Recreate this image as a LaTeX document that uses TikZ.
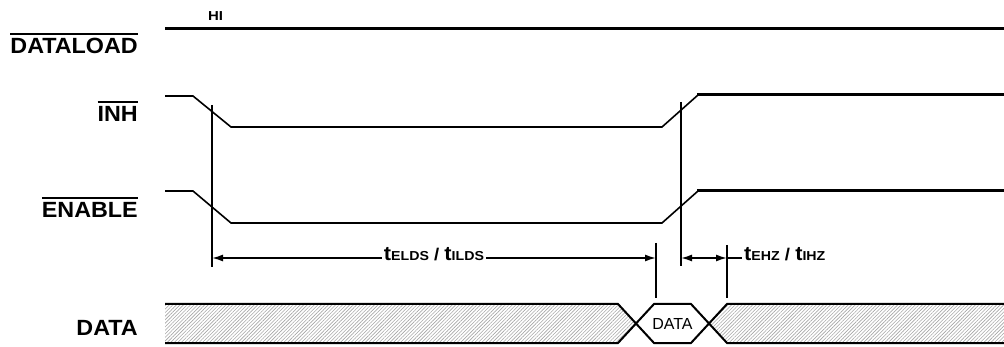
\documentclass[tikz,border=0pt]{standalone}
\usepackage{fontspec}
\setmainfont{Liberation Sans}
\usetikzlibrary{arrows.meta,patterns.meta}
\newcommand\ovl[1]{\vbox{\hrule height 2pt\kern 4pt\hbox{#1}}}
\newcommand\tsub[1]{{\fontsize{20}{22}\selectfont t}{\fontsize{13}{14}\selectfont #1}}
\newcommand\slsh{{\fontsize{17}{19}\selectfont\ /\ }}
\tikzset{
  lbl/.style={anchor=base east,inner sep=0pt,font=\fontsize{22}{26}\selectfont\bfseries},
  sig/.style={line width=1.6pt,line join=miter},
  sigthick/.style={line width=3pt},
  vline/.style={line width=1.6pt},
  dim/.style={line width=1.6pt},
  tip/.style={-{Latex[length=11pt,width=7pt]}},
  hatch/.style={pattern={Lines[angle=45,distance=2.5pt,line width=0.6pt]},pattern color=gray!70},
  bus/.style={line width=2pt,line join=miter},
  dimlbl/.style={anchor=base,inner sep=2pt,font=\bfseries},
}
\begin{document}
\begin{tikzpicture}[x=1pt,y=-1pt]
\useasboundingbox (0,0) rectangle (1004,347);
% labels
\node[lbl] (ldl) at (138,54) {\scalebox{1.06}[1]{\ovl{DATALOAD}}};
\node[lbl] (linh) at (138,122) {\scalebox{1.06}[1]{\ovl{INH}}};
\node[lbl] (len) at (138,218) {\scalebox{1.06}[1]{\ovl{ENABLE}}};
\node[lbl] (ldata) at (138,335) {\scalebox{1.06}[1]{DATA}};
\node[anchor=base west,inner sep=0pt,font=\fontsize{13}{15}\selectfont\bfseries] (hi) at (208,21) {\scalebox{1.15}[1]{HI}};
% DATALOAD
\draw[sigthick] (165,29) -- (1004,29);
% INH
\draw[sig] (165,96) -- (193,96) -- (231,127) -- (662,127) -- (698,95);
\draw[sigthick] (697,95) -- (1004,95);
% ENABLE
\draw[sig] (165,191) -- (193,191) -- (231,223) -- (662,223) -- (698,191);
\draw[sigthick] (697,191) -- (1004,191);
% vertical markers
\coordinate (v1t) at (212,105); \coordinate (v1b) at (212,267);
\coordinate (v2t) at (656,243); \coordinate (v2b) at (656,298);
\coordinate (v3t) at (681,102); \coordinate (v3b) at (681,266);
\coordinate (v4t) at (727,245); \coordinate (v4b) at (727,298);
\draw[vline] (v1t) -- (v1b);
\draw[vline] (v2t) -- (v2b);
\draw[vline] (v3t) -- (v3b);
\draw[vline] (v4t) -- (v4b);
% dimensions
\node[dimlbl] (t1) at (434,261) {\scalebox{1.09}[1]{\tsub{ELDS}\slsh\tsub{ILDS}}};
\coordinate (d1a) at (212,258); \coordinate (d1b) at (656,258);
\draw[dim,tip] (t1.west |- d1a) -- (d1a);
\draw[dim,tip] (t1.east |- d1b) -- (d1b);
\coordinate (d2a) at (681,258); \coordinate (d2b) at (727,258);
\node[dimlbl,anchor=base west] (t2) at (742,261) {\scalebox{1.09}[1]{\tsub{EHZ}\slsh\tsub{IHZ}}};
\draw[dim,{Latex[length=11pt,width=7pt]}-{Latex[length=11pt,width=7pt]}] (d2a) -- (d2b);
\draw[dim] (d2b) -- (t2.west |- d2b);
% DATA bus
\fill[hatch] (165,304) -- (618,304) -- (636,323.5) -- (618,343) -- (165,343) -- cycle;
\fill[hatch] (1004,304) -- (727,304) -- (709,323.5) -- (727,343) -- (1004,343) -- cycle;
\draw[bus] (165,304) -- (618,304) -- (654,343) -- (691,343) -- (727,304) -- (1004,304);
\draw[bus] (165,343) -- (618,343) -- (654,304) -- (691,304) -- (727,343) -- (1004,343);
\node[inner sep=0pt,font=\fontsize{16}{19}\selectfont] (dt) at (672.5,323.5) {DATA};
\end{tikzpicture}
\end{document}
